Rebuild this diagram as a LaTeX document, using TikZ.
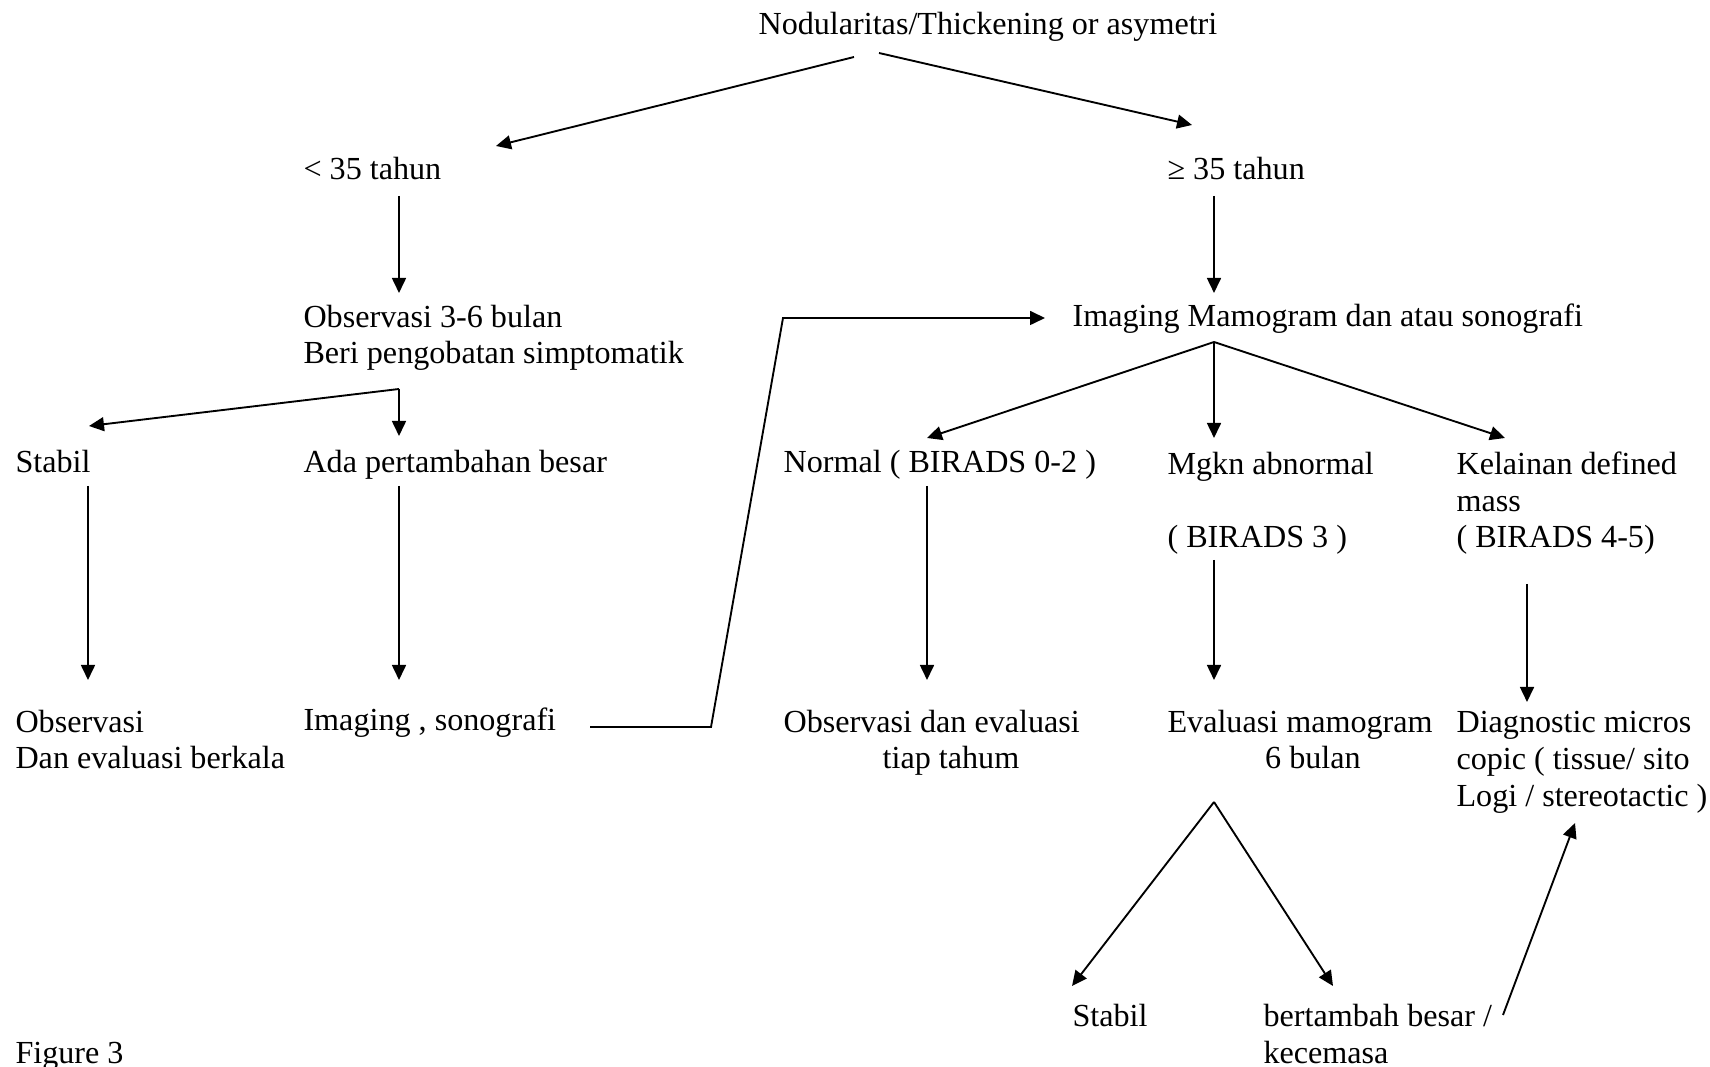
\documentclass[tikz,border=0pt]{standalone}
\usepackage{fontspec}
\setmainfont{Liberation Serif}
\usetikzlibrary{arrows.meta}

\begin{document}
\begin{tikzpicture}[x = 0.01312cm, y = -0.01312cm, font=\fontsize{12}{13.8}\selectfont]
	\tikzstyle{textStyle} = [anchor = base west, inner sep = 0pt, align = left]
	\tikzstyle{midStyle} = [anchor = base west, inner sep = 0pt, align = center]
	\tikzstyle{arrowStyle} = [-{Triangle[length = 5.6pt, width = 5.2pt]}, line width = 0.7pt]
	\useasboundingbox (0,0) rectangle (1710,1067);
	% text (base = last line)
	\node[textStyle] (nodul) at (758,35) {Nodularitas/Thickening or asymetri};
	\node[textStyle] (lt35) at (303,180) {< 35 tahun};
	\node[textStyle] (ge35) at (1167,180) {≥ 35 tahun};
	\node[textStyle] (obsA) at (303,364) {Observasi 3-6 bulan\\Beri pengobatan simptomatik};
	\node[textStyle] (imgMamo) at (1072,327) {Imaging Mamogram dan atau sonografi};
	\node[textStyle] (stabilA) at (15,473) {Stabil};
	\node[textStyle] (adaBesar) at (303,473) {Ada pertambahan besar};
	\node[textStyle] (normal) at (783,473) {Normal ( BIRADS 0-2 )};
	\node[textStyle] (mgkn) at (1167,548) {Mgkn abnormal\\[13.8pt]( BIRADS 3 )};
	\node[textStyle] (kelainan) at (1456,548) {Kelainan defined\\mass\\( BIRADS 4-5)};
	\node[textStyle] (obsB) at (15,769) {Observasi\\Dan evaluasi berkala};
	\node[textStyle] (imgSono) at (303,731) {Imaging , sonografi};
	\node[midStyle] (obsC) at (783,769) {Observasi dan evaluasi\\\hspace*{1.2em}tiap tahum};
	\node[midStyle] (evalMamo) at (1167,769) {Evaluasi mamogram\\\hspace*{0.8em}6 bulan};
	\node[textStyle] (diagMicro) at (1456,806) {Diagnostic micros\\copic ( tissue/ sito\\Logi / stereotactic )};
	\node[textStyle] (stabilB) at (1072,1026) {Stabil};
	\node[textStyle] (bertambah) at (1263,1063) {bertambah besar /\\kecemasa};
	\node[textStyle] (figLabel) at (15,1063) {Figure 3};
	% ends of the connectors
	\coordinate (nodulL) at (854,57);
	\coordinate (nodulR) at (879,53);
	\coordinate (lt35In) at (496,146);
	\coordinate (ge35In) at (1192,125);
	\coordinate (lt35Out) at (399,196);
	\coordinate (obsAIn) at (399,293);
	\coordinate (ge35Out) at (1214,196);
	\coordinate (imgMamoIn) at (1214,293);
	\coordinate (obsAOut) at (399,389);
	\coordinate (adaBesarIn) at (399,436);
	\coordinate (stabilAIn) at (89,426);
	\coordinate (stabilAOut) at (88,486);
	\coordinate (obsBIn) at (88,680);
	\coordinate (adaBesarOut) at (399,486);
	\coordinate (imgSonoIn) at (399,680);
	\coordinate (imgSonoOut) at (590,727);
	\coordinate (bendA) at (711,727);
	\coordinate (bendB) at (783,318);
	\coordinate (imgMamoSide) at (1045,318);
	\coordinate (imgMamoOut) at (1214,342);
	\coordinate (normalIn) at (927,438);
	\coordinate (mgknIn) at (1214,438);
	\coordinate (kelainanIn) at (1505,438);
	\coordinate (normalOut) at (927,486);
	\coordinate (obsCIn) at (927,680);
	\coordinate (mgknOut) at (1214,560);
	\coordinate (evalMamoIn) at (1214,680);
	\coordinate (kelainanOut) at (1527,584);
	\coordinate (diagMicroIn) at (1527,702);
	\coordinate (evalMamoOut) at (1214,802);
	\coordinate (stabilBIn) at (1072,986);
	\coordinate (bertambahIn) at (1333,986);
	\coordinate (bertambahOut) at (1503,1015);
	\coordinate (diagMicroBack) at (1575,823);
	% connectors
	\draw[arrowStyle] (nodulL) -- (lt35In);
	\draw[arrowStyle] (nodulR) -- (ge35In);
	\draw[arrowStyle] (lt35Out) -- (obsAIn);
	\draw[arrowStyle] (ge35Out) -- (imgMamoIn);
	\draw[arrowStyle] (obsAOut) -- (adaBesarIn);
	\draw[arrowStyle] (obsAOut) -- (stabilAIn);
	\draw[arrowStyle] (stabilAOut) -- (obsBIn);
	\draw[arrowStyle] (adaBesarOut) -- (imgSonoIn);
	\draw[arrowStyle] (imgSonoOut) -- (bendA) -- (bendB) -- (imgMamoSide);
	\draw[arrowStyle] (imgMamoOut) -- (normalIn);
	\draw[arrowStyle] (imgMamoOut) -- (mgknIn);
	\draw[arrowStyle] (imgMamoOut) -- (kelainanIn);
	\draw[arrowStyle] (normalOut) -- (obsCIn);
	\draw[arrowStyle] (mgknOut) -- (evalMamoIn);
	\draw[arrowStyle] (kelainanOut) -- (diagMicroIn);
	\draw[arrowStyle] (evalMamoOut) -- (stabilBIn);
	\draw[arrowStyle] (evalMamoOut) -- (bertambahIn);
	\draw[arrowStyle] (bertambahOut) -- (diagMicroBack);
\end{tikzpicture}
\end{document}
